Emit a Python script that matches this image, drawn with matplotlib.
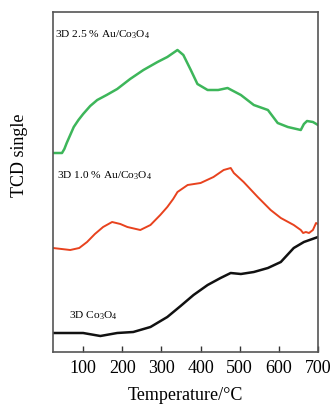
import matplotlib
matplotlib.use("Agg")
import matplotlib.pyplot as plt

plt.rcParams['font.family'] = ['Liberation Serif', 'DejaVu Serif']
plt.rcParams['mathtext.fontset'] = 'custom'
plt.rcParams['mathtext.rm'] = 'Liberation Serif'

# Temperature (°C) and TCD signal (arbitrary units)
t_25 = [23, 46, 52, 58, 67, 76, 88, 100, 118, 136, 160, 187, 220, 254, 290, 315, 341, 356, 375, 392, 418, 445, 469, 503, 536, 572, 597, 623, 656, 664, 672, 687, 700]
s_25 = [199, 199, 203, 209, 217, 225, 232, 238, 246, 252, 257, 263, 273, 282, 290, 295, 302, 297, 282, 268, 262, 262, 264, 257, 247, 242, 229, 225, 222, 228, 231, 230, 227]

t_10 = [23, 67, 90, 110, 130, 151, 174, 195, 213, 246, 272, 297, 315, 330, 341, 367, 400, 433, 459, 477, 485, 510, 546, 579, 605, 638, 656, 662, 669, 677, 687, 695, 700]
s_10 = [104, 102, 104, 110, 118, 125, 130, 128, 125, 122, 127, 137, 145, 153, 160, 167, 169, 175, 182, 184, 179, 170, 155, 142, 134, 127, 122, 119, 120, 119, 122, 129, 128]

t_0 = [23, 100, 144, 187, 228, 272, 315, 349, 382, 418, 451, 477, 503, 536, 572, 605, 638, 664, 700]
s_0 = [19, 19, 16, 19, 20, 25, 35, 46, 57, 67, 74, 79, 78, 80, 84, 90, 104, 110, 115]

labels = [r"3D 2.5 % Au/Co$\mathregular{_3}$O$\mathregular{_4}$",
          r"3D 1.0 % Au/Co$\mathregular{_3}$O$\mathregular{_4}$",
          r"3D Co$\mathregular{_3}$O$\mathregular{_4}$"]
xticks = [100, 200, 300, 400, 500, 600, 700]

fig = plt.figure(figsize=(3.34, 4.04), dpi=100)
ax = fig.add_axes([53/334, 1-352/404, (318-53)/334, (352-12)/404])

ax.plot(t_25, s_25, color='#3db65a', lw=1.8)
ax.plot(t_10, s_10, color='#e8421e', lw=1.4)
ax.plot(t_0, s_0, color='#111111', lw=1.8)

ax.set_xlim(23, 700)
ax.set_ylim(0, 340)
ax.set_yticks([])
ax.set_xticks(xticks)
ax.set_xticklabels([str(v) for v in xticks])
ax.tick_params(axis='x', direction='in', length=4, width=1, labelsize=13, pad=6, colors='#333333', labelcolor='black')
for sp in ax.spines.values():
    sp.set_color('#555555')
    sp.set_linewidth(1.2)

ax.text(28, 317, labels[0], fontsize=8.2, va='center', ha='left')
ax.text(33, 176, labels[1], fontsize=8.2, va='center', ha='left')
ax.text(64, 36, labels[2], fontsize=8.2, va='center', ha='left')

fig.text(185/334, 1-396/404, "Temperature/°C", fontsize=13, ha='center', va='center')
fig.text(20/334, 1-155/404, "TCD single", fontsize=13, ha='center', va='center', rotation=90)

fig.savefig("out.png", dpi=100, facecolor='white')
